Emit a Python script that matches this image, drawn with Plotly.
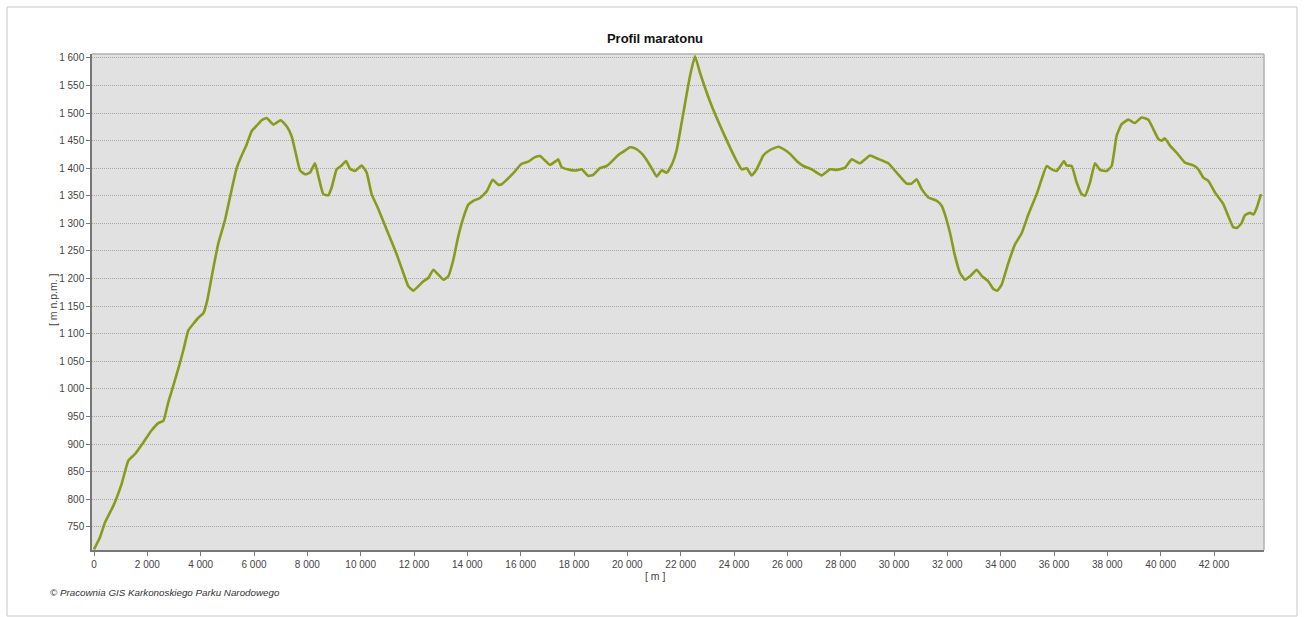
import plotly.graph_objects as go

# distance along the route [m]
distance_m = [
    0, 225, 412, 725, 1037, 1287, 1537, 1850, 2162, 2412, 2600, 2787, 2975, 3200, 3350,
    3537, 3725, 3912, 4100, 4250, 4412, 4662, 4912, 5162, 5350, 5537, 5725, 5912, 6100,
    6287, 6475, 6725, 7000, 7225, 7412, 7575, 7725, 7912, 8100, 8287, 8412, 8600, 8787,
    8912, 9100, 9287, 9450, 9600, 9787, 10037, 10225, 10412, 10662, 10912, 11100, 11350,
    11600, 11787, 11975, 12162, 12350, 12537, 12725, 12912, 13100, 13287, 13475, 13662,
    13850, 14037, 14225, 14475, 14725, 14950, 15160, 15290, 15475, 15725, 16037, 16287,
    16537, 16725, 16912, 17100, 17350, 17412, 17537, 17850, 18100, 18287, 18537, 18725,
    18975, 19225, 19412, 19662, 19850, 20100, 20287, 20537, 20725, 20912, 21100, 21287,
    21475, 21662, 21850, 22100, 22350, 22537, 22725, 23100, 23600, 24100, 24287, 24475,
    24662, 24850, 25100, 25350, 25662, 25912, 26100, 26350, 26600, 26912, 27287, 27600,
    27850, 28162, 28412, 28725, 29100, 29350, 29600, 29787, 30100, 30475, 30662, 30850,
    31037, 31287, 31600, 31787, 31912, 32100, 32287, 32475, 32662, 32850, 33100, 33287,
    33537, 33725, 33875, 34037, 34287, 34537, 34787, 35037, 35350, 35537, 35725, 35912,
    36100, 36287, 36375, 36475, 36662, 36850, 37037, 37162, 37350, 37537, 37725, 37975,
    38162, 38350, 38537, 38787, 39037, 39287, 39537, 39725, 39912, 40037, 40162, 40350,
    40600, 40912, 41225, 41412, 41600, 41787, 42037, 42350, 42537, 42725, 42875, 43037,
    43162, 43350, 43475, 43600, 43762,
]

# elevation [m n.p.m.]
elevation = [
    709, 731, 758, 788, 828, 870, 882, 903, 925, 938, 942, 976, 1006, 1043, 1070,
    1106, 1118, 1129, 1137, 1161, 1203, 1264, 1306, 1361, 1400, 1423, 1443, 1467, 1477,
    1487, 1491, 1479, 1487, 1476, 1458, 1425, 1396, 1389, 1392, 1409, 1386, 1353, 1351,
    1365, 1398, 1405, 1413, 1399, 1395, 1405, 1392, 1353, 1326, 1296, 1274, 1244,
    1210, 1186, 1178, 1186, 1195, 1201, 1216, 1207, 1198, 1204, 1234, 1277,
    1310, 1334, 1341, 1346, 1358, 1379, 1370, 1371, 1379, 1391, 1408, 1412,
    1420, 1422, 1414, 1406, 1414, 1416, 1402, 1397, 1396, 1398, 1386, 1388,
    1400, 1404, 1412, 1424, 1430, 1438, 1436, 1427, 1415, 1400, 1385, 1396,
    1392, 1406, 1433, 1500, 1567, 1603, 1573, 1521, 1464, 1413, 1398, 1400,
    1387, 1398, 1423, 1433, 1439, 1433, 1426, 1413, 1404, 1398, 1387, 1398,
    1397, 1401, 1416, 1409, 1423, 1418, 1413, 1409, 1392, 1372, 1372, 1380,
    1362, 1347, 1341, 1332, 1316, 1283, 1241, 1210, 1198, 1204, 1216, 1205,
    1195, 1181, 1178, 1189, 1228, 1262, 1282, 1316, 1353, 1380, 1404, 1398,
    1395, 1407, 1413, 1405, 1404, 1374, 1353, 1350, 1374, 1409, 1397, 1395,
    1404, 1459, 1480, 1488, 1482, 1492, 1488, 1471, 1453, 1450, 1454, 1441,
    1428, 1410, 1405, 1398, 1383, 1377, 1356, 1335, 1313, 1293, 1292, 1301,
    1315, 1319, 1316, 1328, 1353,
]

x_ticks = list(range(0, 42001, 2000))
y_ticks = list(range(750, 1601, 50))

W, H = 1306, 617
L, R, T, B = 92, 1264, 54, 550
pw, ph = R - L, B - T


def px_x(p):
    return (p - L) / pw


def px_y(p):
    return (B - p) / ph


FONT = "Liberation Sans, Arial, sans-serif"

fig = go.Figure()
fig.add_trace(go.Scatter(
    x=distance_m, y=elevation, mode="lines",
    line=dict(color="#8a9a1c", width=2.6, shape="spline", smoothing=0.4),
    hoverinfo="x+y", showlegend=False,
))

axis_font = dict(family=FONT, size=10, color="#444444")

fig.update_layout(
    width=W, height=H,
    margin=dict(l=L, r=W - R, t=T, b=H - B),
    paper_bgcolor="white",
    plot_bgcolor="#e1e1e1",
    separators=". ",
    title=dict(
        text="<b>Profil maratonu</b>",
        x=px_x(655), xref="paper", xanchor="center",
        y=1 - 38 / H, yref="container", yanchor="middle",
        font=dict(family=FONT, size=13, color="#111111"),
    ),
    xaxis=dict(
        range=[-75, 43875], tickvals=x_ticks, separatethousands=True,
        tickformat=",d",
        showgrid=False, zeroline=False,
        showline=True, linecolor="#777777", linewidth=1.5, mirror=False,
        ticks="outside", ticklen=4, tickcolor="#777777",
        tickfont=axis_font,
    ),
    yaxis=dict(
        range=[708, 1607], tickvals=y_ticks, separatethousands=True,
        tickformat=",d",
        showgrid=True, gridcolor="#a8a8a8", griddash="1px,1px", gridwidth=1,
        zeroline=False,
        showline=True, linecolor="#777777", linewidth=1.5,
        ticks="outside", ticklen=4, tickcolor="#777777",
        tickfont=axis_font,
    ),
    shapes=[
        # plot area top / right border
        dict(type="line", xref="paper", yref="paper", x0=0, x1=1, y0=1, y1=1,
             line=dict(color="#b0b0b0", width=1.5)),
        dict(type="line", xref="paper", yref="paper", x0=1, x1=1, y0=0, y1=1,
             line=dict(color="#b0b0b0", width=1.5)),
        # outer frame
        dict(type="rect", xref="paper", yref="paper",
             x0=px_x(7), x1=px_x(1297), y0=px_y(616), y1=px_y(7),
             line=dict(color="#c8c8c8", width=1), layer="below"),
    ],
    annotations=[
        dict(text="[ m n.p.m. ]", xref="paper", yref="paper",
             x=px_x(53), y=px_y(300), textangle=-90, showarrow=False,
             xanchor="center", yanchor="middle",
             font=dict(family=FONT, size=10.5, color="#444444")),
        dict(text="[ m ]", xref="paper", yref="paper",
             x=px_x(655), y=px_y(576), showarrow=False,
             xanchor="center", yanchor="middle",
             font=dict(family=FONT, size=10.5, color="#444444")),
        dict(text="<i>© Pracownia GIS Karkonoskiego Parku Narodowego</i>",
             xref="paper", yref="paper",
             x=px_x(48), y=px_y(592), showarrow=False,
             xanchor="left", yanchor="middle",
             font=dict(family=FONT, size=9.8, color="#333333")),
    ],
)

fig.write_html(
    "out.html",
    config={"displayModeBar": False},
    post_script="document.body.style.margin='0';document.body.style.overflow='hidden';",
)
